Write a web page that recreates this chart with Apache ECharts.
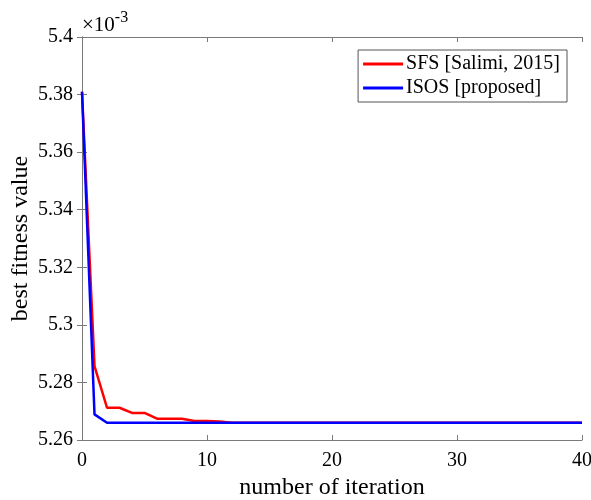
<!DOCTYPE html>
<html>
<head>
<meta charset="utf-8">
<script src="https://cdn.jsdelivr.net/npm/echarts@6/dist/echarts.min.js"></script>
<style>
html, body { margin: 0; padding: 0; background: #fff; }
#main { width: 591px; height: 500px; }
</style>
</head>
<body>
<div id="main"></div>
<script>
// values in units of 1e-3 (axis shows x10^-3)
var seriesNames = ['SFS [Salimi, 2015]', 'ISOS [proposed]'];
var sfsValues = [5.381, 5.2857, 5.2712, 5.2712, 5.2694, 5.2694, 5.2674, 5.2674, 5.2674, 5.2666,
	5.2666, 5.2664, 5.266, 5.266, 5.266, 5.266, 5.266, 5.266, 5.266, 5.266,
	5.266, 5.266, 5.266, 5.266, 5.266, 5.266, 5.266, 5.266, 5.266, 5.266,
	5.266, 5.266, 5.266, 5.266, 5.266, 5.266, 5.266, 5.266, 5.266, 5.266, 5.266];
var isosValues = [5.381, 5.2689, 5.266, 5.266, 5.266, 5.266, 5.266, 5.266, 5.266, 5.266,
	5.266, 5.266, 5.266, 5.266, 5.266, 5.266, 5.266, 5.266, 5.266, 5.266,
	5.266, 5.266, 5.266, 5.266, 5.266, 5.266, 5.266, 5.266, 5.266, 5.266,
	5.266, 5.266, 5.266, 5.266, 5.266, 5.266, 5.266, 5.266, 5.266, 5.266, 5.266];
var xTicks = [0, 10, 20, 30, 40];
var yTicks = [5.26, 5.28, 5.3, 5.32, 5.34, 5.36, 5.38, 5.4];

var font = 'Liberation Serif';
var axisGrey = '#7a7a7a';

function toPairs(arr) {
	return arr.map(function(v, i) { return [i, v]; });
}

var baseX = {
	type: 'value',
	min: xTicks[0],
	max: xTicks[xTicks.length - 1],
	interval: 10,
	splitLine: { show: false },
	axisLine: { lineStyle: { color: axisGrey, width: 1 } },
	axisTick: { inside: true, length: 5, lineStyle: { color: axisGrey } }
};
var baseY = {
	type: 'value',
	min: yTicks[0],
	max: yTicks[yTicks.length - 1],
	interval: 0.02,
	splitLine: { show: false },
	axisLine: { lineStyle: { color: axisGrey, width: 1 } },
	axisTick: { inside: true, length: 5, lineStyle: { color: axisGrey } }
};

var option = {
	backgroundColor: '#fff',
	animation: false,
	textStyle: { fontFamily: font },
	grid: { left: 82, right: 9, top: 37, bottom: 60, outerBoundsMode: 'none' },
	legend: {
		orient: 'vertical',
		right: 24,
		top: 50,
		icon: 'rect',
		itemWidth: 40,
		itemHeight: 3,
		itemGap: 4,
		padding: [4, 7, 4, 5],
		borderColor: '#555',
		borderWidth: 1,
		textStyle: { fontFamily: font, fontSize: 20, color: '#000', padding: [0, 0, 0, -2] },
		data: seriesNames
	},
	xAxis: [
		Object.assign({}, baseX, {
			position: 'bottom',
			name: 'number of iteration',
			nameLocation: 'middle',
			nameGap: 36,
			nameMoveOverlap: false,
			nameTextStyle: { fontFamily: font, fontSize: 24, color: '#000' },
			axisLabel: { fontFamily: font, fontSize: 20, color: '#000', margin: 11 }
		}),
		Object.assign({}, baseX, { position: 'top', axisLabel: { show: false } })
	],
	yAxis: [
		Object.assign({}, baseY, {
			position: 'left',
			name: 'best fitness value',
			nameLocation: 'middle',
			nameGap: 49,
			nameMoveOverlap: false,
			nameTextStyle: { fontFamily: font, fontSize: 24, color: '#000' },
			axisLabel: {
				fontFamily: font, fontSize: 20, color: '#000', margin: 9,
				formatter: function(v) { return String(+v.toFixed(2)); }
			}
		}),
		Object.assign({}, baseY, { position: 'right', axisLabel: { show: false } })
	],
	graphic: [{
		type: 'text',
		left: 82,
		top: 10,
		style: {
			text: '{a|\u00d710}{b|-3}',
			rich: {
				a: { fontFamily: font, fontSize: 21, fill: '#000', verticalAlign: 'bottom' },
				b: { fontFamily: font, fontSize: 16, fill: '#000', verticalAlign: 'top', padding: [0, 0, 10, 0] }
			}
		}
	}],
	series: [{
		name: seriesNames[0],
		type: 'line',
		symbol: 'none',
		data: toPairs(sfsValues),
		lineStyle: { color: '#ff0000', width: 2.5 },
		itemStyle: { color: '#ff0000' }
	}, {
		name: seriesNames[1],
		type: 'line',
		symbol: 'none',
		data: toPairs(isosValues),
		lineStyle: { color: '#0000ff', width: 2.5 },
		itemStyle: { color: '#0000ff' }
	}]
};

var my = echarts.init(document.getElementById('main'));
my.setOption(option);
</script>
</body>
</html>
